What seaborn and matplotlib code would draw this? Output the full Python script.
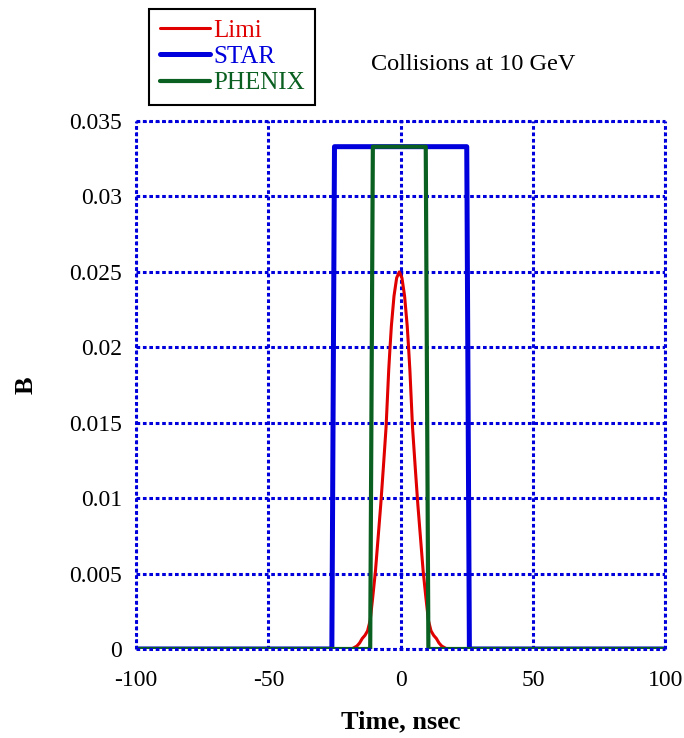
import numpy as np
import pandas as pd
import seaborn as sns
import matplotlib.pyplot as plt

# values
star_time = [-100, -26, -25, 25, 26, 100]
star_b = [0, 0, 0.0333, 0.0333, 0, 0]

phenix_time = [-100, -11.5, -10.5, 9.5, 10.5, 100]
phenix_b = [0, 0, 0.0333, 0.0333, 0, 0]

limi_time = [-100, -18.5, -16.5, -15.5, -14.5, -13.5, -12.5, -11.5, -10.5, -9.5,
             -8.5, -7.5, -6.5, -5.5, -4.5, -4.0, -3.5, -2.5, -1.5, -0.5,
             0.5, 1.5, 2.5, 3.0, 3.5, 4.5, 5.5, 6.5, 7.5, 8.5,
             9.5, 10.5, 11.5, 12.5, 13.5, 14.5, 15.5, 17.5, 100]
limi_b = [0, 0, 0.0002, 0.0004, 0.0007, 0.0009, 0.0012, 0.0019, 0.0035, 0.0052,
          0.0074, 0.0096, 0.0121, 0.0147, 0.0185, 0.0200, 0.0214, 0.0234, 0.0246, 0.0250,
          0.0246, 0.0234, 0.0214, 0.0200, 0.0185, 0.0147, 0.0121, 0.0096, 0.0074, 0.0052,
          0.0035, 0.0019, 0.0012, 0.0009, 0.0007, 0.0004, 0.0002, 0, 0]

x_ticks = [-100, -50, 0, 50, 100]
y_ticks = [0, 0.005, 0.01, 0.015, 0.02, 0.025, 0.03, 0.035]
y_tick_labels = ['0', '0.005', '0.01', '0.015', '0.02', '0.025', '0.03', '0.035']

sns.set_style('white')
plt.rcParams['font.family'] = ['Liberation Serif', 'DejaVu Serif']
plt.rcParams['text.color'] = 'black'
plt.rcParams['xtick.color'] = 'black'
plt.rcParams['ytick.color'] = 'black'
plt.rcParams['axes.labelcolor'] = 'black'

fig = plt.figure(figsize=(6.84, 7.38), dpi=100)
ax = fig.add_axes([0.199, 0.1206, 0.7734, 0.7154])

grid_blue = '#0000dd'
dots = (0, (1.2, 0.9))
ax.grid(True, color=grid_blue, linestyle=dots, linewidth=2.2)
ax.set_axisbelow(True)

df_star = pd.DataFrame({'t': star_time, 'B': star_b})
df_phenix = pd.DataFrame({'t': phenix_time, 'B': phenix_b})
df_limi = pd.DataFrame({'t': limi_time, 'B': limi_b})

# draw order: STAR, Limi, then PHENIX on top (zero line shows green)
sns.lineplot(data=df_star, x='t', y='B', ax=ax, color='#0000dd', linewidth=3.6,
             sort=False, estimator=None, label='STAR')
sns.lineplot(data=df_limi, x='t', y='B', ax=ax, color='#e00000', linewidth=2.2,
             sort=False, estimator=None, label='Limi')
sns.lineplot(data=df_phenix, x='t', y='B', ax=ax, color='#0a6020', linewidth=3.0,
             sort=False, estimator=None, label='PHENIX')

ax.set_xlim(-100, 100)
ax.set_ylim(0, 0.035)
ax.set_xticks(x_ticks)
ax.set_xticklabels([str(v) for v in x_ticks])
ax.set_yticks(y_ticks)
ax.set_yticklabels(y_tick_labels)
ax.tick_params(axis='y', length=0, labelsize=17, pad=10)
ax.tick_params(axis='x', length=0, labelsize=17, pad=15)

for s in ax.spines.values():
    s.set_color(grid_blue)
    s.set_linestyle(dots)
    s.set_linewidth(2.2)
    s.set_capstyle('butt')

ax.set_xlabel('Time, nsec', fontsize=19, fontweight='bold', labelpad=14)
ax.set_ylabel('B', fontsize=19, fontweight='bold', labelpad=23)

handles, labels = ax.get_legend_handles_labels()
order = [1, 0, 2]
leg = fig.legend([handles[i] for i in order], [labels[i] for i in order],
                 loc='upper left', bbox_to_anchor=(0.218, 0.988),
                 fontsize=18, frameon=True, fancybox=False, framealpha=1,
                 edgecolor='black', handlelength=2.0, handletextpad=0.15,
                 labelspacing=0.15, borderpad=0.42, borderaxespad=0)
leg.get_frame().set_linewidth(1.5)
for txt, c in zip(leg.get_texts(), ['#e00000', '#0000dd', '#0a6020']):
    txt.set_color(c)
if ax.get_legend():
    ax.get_legend().remove()

fig.text(0.692, 0.912, 'Collisions at 10 GeV', fontsize=17.5, ha='center', va='center')

fig.savefig('out.png', dpi=100)
